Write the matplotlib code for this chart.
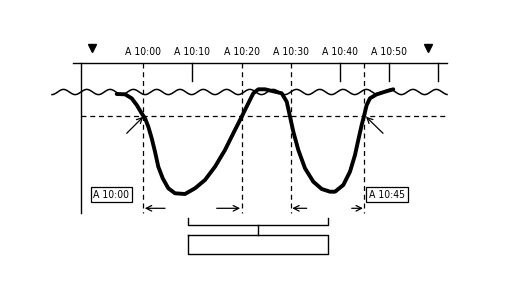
import numpy as np
import matplotlib.pyplot as plt

# time axis: minutes after 10:00
tick_min = [0, 10, 20, 30, 40, 50]
tick_labels = ["A 10:00", "A 10:10", "A 10:20", "A 10:30", "A 10:40", "A 10:50"]
short_ticks = [10, 40, 50, 60]
dashed_lines = [0, 20, 30, 45]
start_line = -12.75
markers_min = [-10.4, 58.0]

# level curve (minutes, vertical position)
curve_t = [-5.41, -3.72, -2.36, -1.34, -0.33, 0.35, 1.02, 1.71, 2.38, 3.05, 3.95,
           5.09, 6.45, 8.48, 10.52, 12.55, 14.59, 16.62, 18.31, 20.02, 21.36,
           22.38, 23.40, 24.76, 26.80, 28.16, 29.18, 29.85, 30.52, 31.54, 32.90,
           34.59, 36.30, 37.99, 39.01, 40.69, 42.05, 43.07, 43.74, 44.43, 44.96,
           45.45, 46.12, 47.49, 49.18, 50.86]
curve_y = [94.0, 94.3, 98.3, 105.0, 113.3, 118.3, 126.7, 138.3, 151.7, 166.7, 178.3,
           188.3, 193.3, 194.0, 188.3, 180.0, 166.7, 150.0, 133.3, 116.7, 103.3,
           93.3, 89.3, 89.3, 91.7, 93.3, 101.7, 116.7, 131.7, 150.0, 168.3,
           181.7, 189.0, 191.7, 191.7, 185.0, 171.7, 155.0, 140.0, 125.0, 115.0,
           105.0, 98.3, 94.3, 91.7, 89.3]

box_left = ("A 10:00", -6.5)
box_right = ("A 10:45", 49.6)

px0, ppm = 143.3, 4.915  # pixel of 10:00, pixels per minute


def xm(px):
    return (px - px0) / ppm


plt.rcParams['font.family'] = ['DejaVu Sans']
plt.rcParams['font.stretch'] = 'condensed'
fig = plt.figure(figsize=(5.1, 2.83), dpi=100)
ax = fig.add_axes([0, 0, 1, 1])
ax.set_xlim(xm(0), xm(510))
ax.set_ylim(283, 0)
ax.axis("off")

# time axis
ax.plot([xm(73), xm(447)], [63, 63], color="black", lw=1)
for t, lab in zip(tick_min, tick_labels):
    ax.text(t, 52, lab, ha="center", va="center", fontsize=7.5, stretch="condensed")
for t in short_ticks:
    ax.plot([t, t], [63, 81], color="black", lw=1)
ax.plot([start_line, start_line], [63, 213], color="black", lw=1)
for t in dashed_lines:
    ax.plot([t, t], [63, 213], color="black", lw=0.9, ls=(0, (4, 3)))
ax.plot(markers_min, [48, 48], ls="none", marker="v", color="black", ms=5.5)

# water surface
wx = np.linspace(xm(52), xm(447), 800)
wy = 92 - 2.6 * np.cos(2 * np.pi * (wx - xm(156.7)) / (23.3 / ppm))
ax.plot(wx, wy, color="black", lw=1.1)

# reference level
ax.plot([start_line, xm(447)], [116, 116], color="black", lw=0.9, ls=(0, (4, 3)))

# level curve
ax.plot(curve_t, curve_y, color="black", lw=2.8, solid_joinstyle="round",
        solid_capstyle="round")

# pointer arrows
arr = dict(arrowstyle="->", color="black", lw=0.9, shrinkA=0, shrinkB=0)
ax.annotate("", xy=(0, 116.7), xytext=(xm(126.7), 133.3), arrowprops=arr)
ax.annotate("", xy=(xm(366), 116.7), xytext=(xm(383), 133.3), arrowprops=arr)

# labels in boxes
for lab, t in [box_left, box_right]:
    ax.text(t, 194.5, lab, ha="center", va="center", fontsize=7.5, stretch="condensed",
            bbox=dict(boxstyle="square,pad=0.25", fc="white", ec="black", lw=0.9))

# duration arrows
for x0, x1 in [(xm(165), 0.3), (xm(216.7), 19.7), (xm(306.7), 30.3), (xm(351.7), 44.7)]:
    ax.annotate("", xy=(x1, 208.3), xytext=(x0, 208.3), arrowprops=arr)

# bracket and empty box
bl, br = xm(188.3), xm(328.3)
ax.plot([bl, bl, br, br], [217.7, 225, 225, 217.7], color="black", lw=1)
ax.plot([xm(258.3), xm(258.3)], [225, 235], color="black", lw=1)
ax.plot([bl, br, br, bl, bl], [235, 235, 254, 254, 235], color="black", lw=1)

fig.savefig("out.png", dpi=100)
